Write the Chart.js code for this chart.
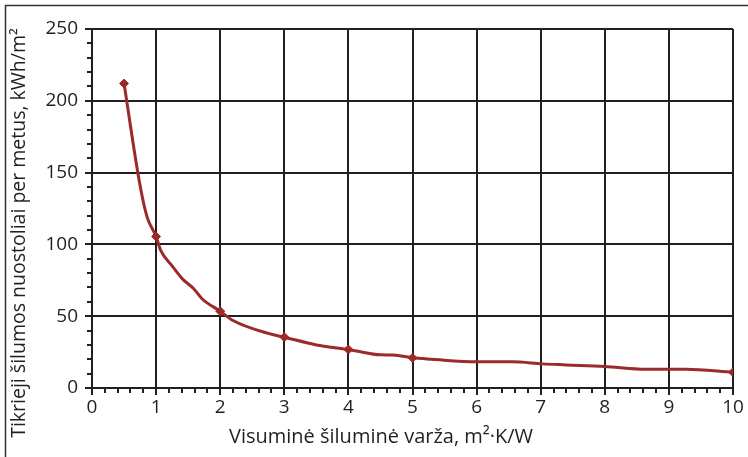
<!DOCTYPE html>
<html>
<head>
<meta charset="utf-8">
<script src="https://cdn.jsdelivr.net/npm/chart.js@4.4.1/dist/chart.umd.min.js"></script>
<style>
  html, body { margin: 0; padding: 0; background: #fff; }
  #wrap { width: 748px; height: 457px; position: relative; }
</style>
</head>
<body>
<div id="wrap"><canvas id="myChart"></canvas></div>
<script>
// Chart data //
const curveR = [0.5, 0.75, 0.86, 1, 1.07, 1.25, 1.41, 1.59, 1.72, 2, 2.2, 2.75, 3, 3.5, 4, 4.1, 4.5, 4.7, 5, 5.3, 6, 6.56, 7.03, 7.4, 8, 8.64, 9.26, 10];
const curveQ = [212, 141, 119, 105.5, 96, 85, 76, 69, 62, 53.5, 47, 38, 35.4, 30, 26.8, 26, 23.1, 23, 21, 20, 18.2, 18.2, 16.8, 16.1, 15, 13.1, 13.1, 11];
const markR = [0.5, 1, 2, 3, 4, 5, 10];
const markQ = [212, 105.5, 53.5, 35.4, 26.8, 21, 11];
const xTicks = [0, 1, 2, 3, 4, 5, 6, 7, 8, 9, 10];
const yTicks = [0, 50, 100, 150, 200, 250];
const xTitle = "Visuminė šiluminė varža, m²·K/W";
const yTitle = "Tikrieji šilumos nuostoliai per metus, kWh/m²";

const lineColor = "#9c2a2b";
const gridColor = "#231f20";
const fontFamily = "'Open Sans', sans-serif";

// Minor ticks, frame and axis titles
const extrasPlugin = {
    id: "extras",
    afterDraw(chart) {
        const ctx = chart.ctx;
        const x = chart.scales.x;
        const y = chart.scales.y;
        ctx.save();
        ctx.strokeStyle = gridColor;
        ctx.lineWidth = 2;
        ctx.beginPath();
        for (let v = 10; v < 250; v += 10) {
            if (v % 50 === 0) continue;
            const py = Math.round(y.getPixelForValue(v));
            ctx.moveTo(x.left - 5, py);
            ctx.lineTo(x.left, py);
        }
        for (let i = 1; i < 50; i++) {
            if (i % 5 === 0) continue;
            const px = Math.round(x.getPixelForValue(i * 0.2));
            ctx.moveTo(px, y.bottom);
            ctx.lineTo(px, y.bottom + 5);
        }
        ctx.stroke();

        // outer frame (top and left)
        ctx.lineWidth = 1.5;
        ctx.strokeStyle = "#333";
        ctx.beginPath();
        ctx.moveTo(5.5, chart.height);
        ctx.lineTo(5.5, 5.5);
        ctx.lineTo(chart.width, 5.5);
        ctx.stroke();

        ctx.fillStyle = "#231f20";
        ctx.textAlign = "center";
        ctx.textBaseline = "middle";

        // x title
        ctx.font = "20px " + fontFamily;
        ctx.fillText(xTitle, 381, 437);

        // y title
        ctx.translate(19, 233);
        ctx.rotate(-Math.PI / 2);
        ctx.font = "19.5px " + fontFamily;
        ctx.fillText(yTitle, 0, 0);
        ctx.restore();
    }
};

const canvas = document.getElementById("myChart");
const myChart = new Chart(canvas.getContext("2d"), {
    type: "scatter",
    data: {
        datasets: [
            {
                data: curveR.map((r, i) => ({ x: r, y: curveQ[i] })),
                showLine: true,
                borderColor: lineColor,
                borderWidth: 3,
                pointRadius: 0,
                cubicInterpolationMode: "monotone"
            },
            {
                data: markR.map((r, i) => ({ x: r, y: markQ[i] })),
                showLine: false,
                pointStyle: "rectRot",
                pointRadius: 4.5,
                backgroundColor: lineColor,
                borderColor: lineColor,
                borderWidth: 1
            }
        ]
    },
    options: {
        responsive: true,
        maintainAspectRatio: false,
        animation: false,
        layout: { padding: { top: 29, right: 15, left: 0, bottom: 0 } },
        plugins: {
            legend: { display: false },
            tooltip: { enabled: false }
        },
        scales: {
            x: {
                type: "linear",
                min: 0,
                max: 10,
                afterBuildTicks: (s) => { s.ticks = xTicks.map(v => ({ value: v })); },
                afterFit: (s) => { s.height = 69; },
                ticks: {
                    color: "#231f20",
                    font: { family: fontFamily, size: 19 },
                    padding: 1,
                    maxRotation: 0
                },
                grid: { color: gridColor, lineWidth: 2, tickLength: 7 },
                border: { color: gridColor, width: 2 }
            },
            y: {
                type: "linear",
                min: 0,
                max: 250,
                afterBuildTicks: (s) => { s.ticks = yTicks.map(v => ({ value: v })); },
                afterFit: (s) => { s.width = 92; },
                ticks: {
                    color: "#231f20",
                    font: { family: fontFamily, size: 19 },
                    padding: 7
                },
                grid: { color: gridColor, lineWidth: 2, tickLength: 7 },
                border: { color: gridColor, width: 2 }
            }
        }
    },
    plugins: [extrasPlugin]
});
</script>
</body>
</html>
